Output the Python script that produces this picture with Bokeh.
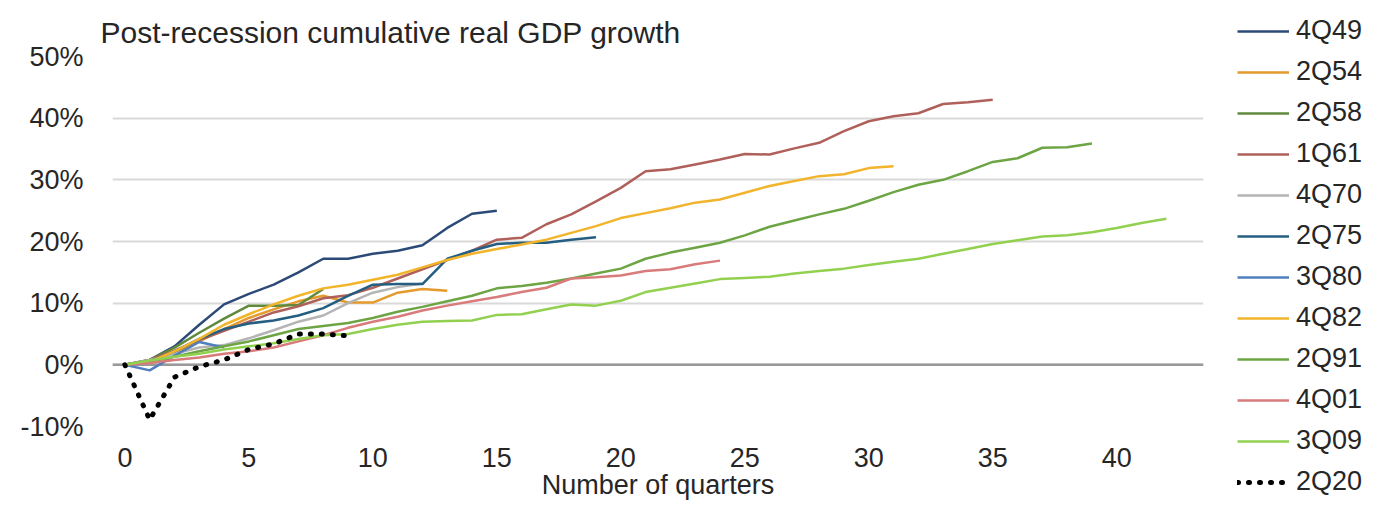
from bokeh.plotting import figure
from bokeh.layouts import row, column
from bokeh.models import Range1d, FixedTicker, PrintfTickFormatter, Span, Legend, LegendItem
from bokeh.embed import file_html
from bokeh.resources import INLINE

# ---- data (cumulative real GDP growth, %, by quarters after trough) ----
s_4Q49 = [0, 0.8, 3.0, 6.5, 9.8, 11.5, 13.0, 15.0, 17.2, 17.2, 18.0, 18.5, 19.4, 22.2, 24.5, 25.0]
s_2Q54 = [0, 0.6, 2.0, 3.8, 5.8, 7.6, 9.0, 10.3, 11.2, 10.1, 10.1, 11.7, 12.3, 12.0]
s_2Q58 = [0, 0.8, 2.8, 5.2, 7.5, 9.6, 9.6, 9.7, 12.3]
s_1Q61 = [0, 0.8, 2.3, 4.0, 5.5, 7.0, 8.5, 9.5, 10.8, 11.3, 12.5, 14.0, 15.5, 17.0, 18.5,
          20.3, 20.6, 22.8, 24.4, 26.5, 28.7, 31.4, 31.7, 32.5, 33.3, 34.2, 34.1, 35.1, 36.0,
          37.9, 39.5, 40.3, 40.8, 42.3, 42.6, 43.0]
s_4Q70 = [0, 0.8, 1.8, 2.8, 3.2, 4.3, 5.6, 7.0, 8.0, 10.0, 11.7, 12.6, 13.2]
s_2Q75 = [0, 0.6, 2.2, 4.2, 5.8, 6.7, 7.2, 8.0, 9.2, 11.2, 13.0, 13.1, 13.1, 17.2, 18.5,
          19.6, 19.8, 19.8, 20.3, 20.7]
s_3Q80 = [0, -0.9, 1.5, 3.7, 2.8]
s_4Q82 = [0, 0.5, 2.2, 4.2, 6.5, 8.2, 9.8, 11.2, 12.4, 13.0, 13.8, 14.6, 15.8, 17.0, 18.0,
          18.8, 19.5, 20.3, 21.4, 22.5, 23.8, 24.6, 25.4, 26.3, 26.8, 27.9, 29.0, 29.8, 30.6,
          30.9, 31.9, 32.2]
s_2Q91 = [0, 0.5, 1.3, 2.2, 3.0, 3.8, 4.8, 5.8, 6.3, 6.8, 7.6, 8.6, 9.4, 10.3, 11.2, 12.4,
          12.8, 13.3, 14.0, 14.8, 15.6, 17.2, 18.2, 19.0, 19.8, 21.0, 22.4, 23.4, 24.4, 25.3,
          26.6, 28.0, 29.2, 30.0, 31.4, 32.9, 33.5, 35.2, 35.3, 35.9]
s_4Q01 = [0, 0.3, 0.8, 1.2, 1.8, 2.2, 2.8, 3.8, 4.8, 6.0, 7.0, 7.8, 8.8, 9.6, 10.3, 11.0,
          11.8, 12.5, 14.0, 14.2, 14.5, 15.2, 15.5, 16.3, 16.9]
s_3Q09 = [0, 0.7, 1.3, 1.8, 2.5, 3.0, 3.5, 4.2, 4.8, 5.0, 5.8, 6.5, 7.0, 7.1, 7.2, 8.1, 8.2,
          9.0, 9.8, 9.6, 10.4, 11.8, 12.5, 13.2, 13.9, 14.1, 14.3, 14.8, 15.2, 15.6, 16.2,
          16.7, 17.2, 18.0, 18.8, 19.6, 20.2, 20.8, 21.0, 21.5, 22.2, 23.0, 23.7]
s_2Q20 = [0, -8.9, -2.0, -0.3, 0.8, 2.5, 3.4, 5.0, 5.0, 4.7]

series_names = ["4Q49", "2Q54", "2Q58", "1Q61", "4Q70", "2Q75", "3Q80", "4Q82",
                "2Q91", "4Q01", "3Q09", "2Q20"]
series_values = [s_4Q49, s_2Q54, s_2Q58, s_1Q61, s_4Q70, s_2Q75, s_3Q80, s_4Q82,
                 s_2Q91, s_4Q01, s_3Q09, s_2Q20]
x_ticks = [0, 5, 10, 15, 20, 25, 30, 35, 40]
y_ticks = [-10, 0, 10, 20, 30, 40, 50]

colors = ["#2c4a78", "#e59a2c", "#5f8a3c", "#b0605a", "#b4b4b4", "#245e80",
          "#4f7fbe", "#f2b42a", "#6da545", "#d97a7b", "#92d050", "#000000"]

FONT = "Liberation Sans"
TXT = "#262626"

p = figure(frame_width=1091, frame_height=370,
           min_border_left=112, min_border_right=20,
           min_border_top=56, min_border_bottom=75,
           x_range=Range1d(-0.5, 43.5), y_range=Range1d(-10, 50),
           output_backend="svg", toolbar_location=None)

p.background_fill_color = "white"
p.border_fill_color = "white"
p.outline_line_color = None

p.title.text = "Post-recession cumulative real GDP growth"
p.title.align = "left"
p.title.offset = -12
p.title.standoff = 16
p.title.text_font = FONT
p.title.text_font_size = "30px"
p.title.text_font_style = "normal"
p.title.text_color = TXT

p.xgrid.grid_line_color = None
p.ygrid.grid_line_color = "#d9d9d9"
p.ygrid.grid_line_width = 2
p.ygrid.ticker = FixedTicker(ticks=y_ticks)

for ax in (p.xaxis[0], p.yaxis[0]):
    ax.axis_line_color = None
    ax.major_tick_line_color = None
    ax.minor_tick_line_color = None
    ax.major_tick_out = 0
    ax.major_tick_in = 0
    ax.major_label_text_font = FONT
    ax.major_label_text_color = TXT

p.xaxis.major_label_text_font_size = "27px"
p.yaxis.major_label_text_font_size = "27px"

p.xaxis.ticker = FixedTicker(ticks=x_ticks)
p.xaxis.major_label_standoff = 21
p.xaxis.axis_label = "Number of quarters"
p.xaxis.axis_label_text_font = FONT
p.xaxis.axis_label_text_font_size = "27px"
p.xaxis.axis_label_text_font_style = "normal"
p.xaxis.axis_label_text_color = TXT
p.xaxis.axis_label_standoff = 0

p.yaxis.ticker = FixedTicker(ticks=y_ticks)
p.yaxis.formatter = PrintfTickFormatter(format="%d%%")
p.yaxis.major_label_standoff = 29

zero = Span(location=0, dimension="width", line_color="#999999", line_width=2.5, level="underlay")
p.add_layout(zero)

# legend panel: a narrow figure to the right; its lines lie outside its visible range
lg = figure(width=141, height=501, min_border_left=14, min_border_top=15,
            min_border_right=0, min_border_bottom=0,
            x_axis_location=None, y_axis_location=None,
            x_range=Range1d(-100, -99), y_range=Range1d(-100, -99),
            output_backend="svg", toolbar_location=None)
lg.title.visible = False
lg.outline_line_color = None
lg.grid.visible = False
lg.background_fill_color = "white"
lg.border_fill_color = "white"

items = []
for name, vals, col in zip(series_names, series_values, colors):
    xs = list(range(len(vals)))
    if name == "2Q20":
        p.line(xs, vals, line_color=col, line_width=5, line_dash="1 10", line_cap="round")
        proxy = lg.line(xs, vals, line_color=col, line_width=5, line_dash="1 10", line_cap="round")
    else:
        p.line(xs, vals, line_color=col, line_width=2.5)
        proxy = lg.line(xs, vals, line_color=col, line_width=2.5)
    items.append(LegendItem(label=name, renderers=[proxy]))

legend = Legend(items=items, location="top_left")
legend.background_fill_alpha = 0
legend.border_line_color = None
legend.padding = 0
legend.margin = 0
legend.spacing = 10
legend.glyph_width = 52
legend.glyph_height = 30
legend.label_height = 30
legend.label_standoff = 7
legend.label_text_font = FONT
legend.label_text_font_size = "27px"
legend.label_text_color = TXT
lg.add_layout(legend, "center")

layout = row(p, column(lg))
open("out.html", "w").write(file_html(layout, INLINE))
